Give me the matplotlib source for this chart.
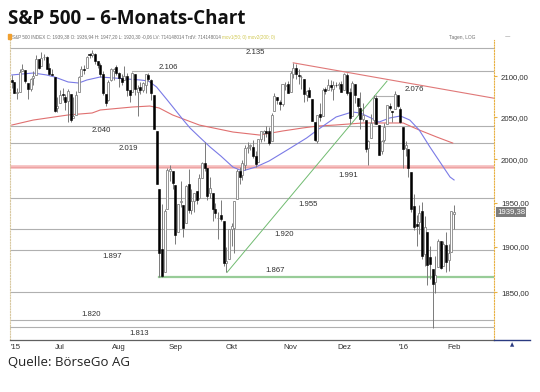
import matplotlib
matplotlib.use("Agg")
import matplotlib.pyplot as plt
import numpy as np
from matplotlib.ticker import NullLocator

# ---------------- data ----------------
month_starts = ["Jul", "Aug", "Sep", "Okt", "Nov", "Dez", "'16", "Feb"]
days_per_month = [18, 22, 21, 21, 22, 20, 22, 19, 1]   # Jun(part) .. Feb(part)

opens = [
 2095.09, 2092.34, 2079.07, 2081.12, 2106.24, 2107.43, 2091.34, 2084.26, 2097.40, 2101.58, 2121.06, 2112.50, 2123.16, 2123.65, 2109.96, 2102.62, 2098.63, 2061.19,
 2067.00, 2078.03, 2073.95, 2069.52, 2077.66, 2049.73, 2052.74, 2080.03, 2099.72, 2109.02, 2110.55, 2126.80, 2126.85, 2127.55, 2118.21, 2114.16, 2102.24, 2078.19, 2070.75, 2094.70, 2106.78, 2111.60,
 2104.49, 2097.68, 2095.27, 2100.75, 2082.61, 2080.98, 2102.66, 2081.10, 2086.19, 2083.15, 2089.70, 2101.99, 2095.69, 2076.61, 2034.08, 1965.15, 1898.08, 1872.75, 1942.77, 1986.06, 1986.73,
 1970.09, 1916.52, 1950.79, 1947.76, 1927.30, 1971.45, 1941.59, 1951.45, 1963.06, 1955.10, 1978.02, 1995.33, 1989.66, 1960.84, 1961.39, 1943.24, 1932.24, 1935.93, 1929.18, 1881.90, 1887.14,
 1919.65, 1921.77, 1954.33, 1986.63, 1982.34, 1994.01, 2013.73, 2015.65, 2015.00, 2003.66, 1996.47, 2024.37, 2031.73, 2033.13, 2033.47, 2021.88, 2058.19, 2075.08, 2068.75, 2066.48, 2088.35, 2090.00,
 2080.76, 2102.63, 2110.60, 2101.68, 2098.60, 2096.56, 2077.19, 2083.41, 2072.29, 2044.64, 2022.08, 2053.67, 2051.99, 2083.70, 2082.82, 2089.41, 2084.42, 2089.30, 2088.82, 2090.95,
 2082.93, 2101.71, 2080.71, 2051.24, 2090.42, 2073.39, 2061.17, 2047.93, 2047.27, 2013.37, 2025.55, 2046.50, 2073.76, 2040.81, 2010.27, 2023.15, 2042.20, 2063.52, 2057.77, 2060.54, 2077.34, 2060.59,
 2038.20, 2013.78, 2011.71, 1985.32, 1945.97, 1926.12, 1927.83, 1940.34, 1891.68, 1916.68, 1888.66, 1876.18, 1861.46, 1877.40, 1906.28, 1878.79, 1902.52, 1885.22, 1894.00,
 1936.94]

highs = [
 2100.99, 2093.01, 2085.62, 2108.50, 2115.02, 2107.43, 2091.34, 2097.40, 2106.79, 2126.65, 2121.64, 2129.87, 2128.03, 2125.10, 2116.04, 2108.92, 2098.63, 2074.28,
 2082.78, 2085.06, 2078.61, 2083.74, 2077.66, 2074.28, 2081.31, 2100.67, 2111.98, 2114.14, 2124.42, 2128.91, 2132.82, 2128.49, 2118.51, 2116.87, 2106.01, 2078.19, 2095.60, 2110.60, 2110.48, 2114.24,
 2105.70, 2102.51, 2112.66, 2103.32, 2082.61, 2105.35, 2102.66, 2089.06, 2092.93, 2092.45, 2102.87, 2103.47, 2096.17, 2076.61, 2034.08, 1965.15, 1948.04, 1943.09, 1989.60, 1993.48, 1986.73,
 1970.09, 1948.91, 1975.01, 1947.76, 1970.42, 1988.63, 1965.29, 1961.05, 1963.06, 1983.19, 1997.26, 2020.86, 1989.66, 1979.64, 1961.39, 1949.52, 1938.88, 1952.89, 1929.18, 1899.48, 1920.53,
 1927.21, 1951.36, 1989.17, 1991.62, 1999.31, 2016.50, 2020.13, 2018.66, 2022.34, 2009.56, 2024.15, 2033.54, 2034.45, 2039.12, 2037.97, 2055.20, 2079.74, 2075.14, 2070.37, 2090.35, 2092.52, 2094.32,
 2106.20, 2116.48, 2114.59, 2108.78, 2101.91, 2096.56, 2083.67, 2086.94, 2072.29, 2044.64, 2053.22, 2066.69, 2085.31, 2086.74, 2097.06, 2095.61, 2094.12, 2093.00, 2093.29, 2093.81,
 2103.37, 2104.27, 2085.00, 2093.84, 2090.42, 2073.85, 2080.33, 2067.65, 2047.27, 2022.92, 2053.87, 2076.72, 2076.37, 2040.81, 2022.90, 2042.74, 2064.73, 2067.36, 2057.77, 2081.56, 2077.34, 2062.54,
 2038.20, 2021.94, 2011.71, 1985.32, 1960.40, 1935.65, 1947.38, 1950.33, 1934.47, 1916.68, 1901.44, 1876.18, 1889.85, 1908.85, 1906.28, 1906.73, 1916.99, 1902.96, 1940.24,
 1947.20]

lows = [
 2085.67, 2079.11, 2072.14, 2081.12, 2106.24, 2091.33, 2072.49, 2082.10, 2088.86, 2101.58, 2109.45, 2112.50, 2119.89, 2108.58, 2101.78, 2101.01, 2056.64, 2056.32,
 2067.00, 2071.02, 2058.40, 2044.02, 2044.66, 2049.73, 2052.74, 2080.03, 2099.72, 2102.49, 2110.55, 2122.01, 2123.66, 2115.40, 2110.00, 2098.63, 2077.09, 2063.52, 2069.09, 2094.08, 2094.97, 2102.07,
 2087.31, 2088.60, 2095.27, 2075.53, 2067.91, 2080.98, 2076.49, 2052.09, 2078.26, 2080.61, 2079.30, 2094.14, 2070.53, 2035.73, 1970.89, 1867.01, 1867.08, 1872.75, 1942.77, 1975.19, 1965.98,
 1903.07, 1916.52, 1944.72, 1911.21, 1927.30, 1937.88, 1937.19, 1939.19, 1948.27, 1954.30, 1977.93, 1986.73, 1953.45, 1955.80, 1929.22, 1932.57, 1908.92, 1928.92, 1879.21, 1871.91, 1887.14,
 1900.70, 1893.70, 1954.33, 1971.99, 1976.44, 1987.53, 2007.61, 2010.55, 2001.78, 1990.73, 1996.47, 2020.46, 2022.31, 2026.61, 2017.22, 2021.88, 2058.19, 2066.53, 2058.84, 2063.11, 2082.63, 2079.34,
 2080.76, 2097.51, 2096.98, 2090.41, 2083.74, 2068.24, 2069.91, 2074.85, 2045.66, 2022.02, 2019.39, 2045.90, 2051.99, 2078.76, 2082.82, 2081.39, 2070.29, 2086.30, 2084.13, 2080.41,
 2082.93, 2077.11, 2042.35, 2051.24, 2066.78, 2052.32, 2036.53, 2045.67, 2008.80, 1993.26, 2025.55, 2042.43, 2041.66, 2005.33, 2005.93, 2020.49, 2042.20, 2058.73, 2044.20, 2060.54, 2061.97, 2043.62,
 1989.68, 2004.17, 1979.05, 1938.83, 1918.46, 1901.10, 1914.35, 1886.41, 1878.93, 1857.83, 1864.60, 1812.29, 1848.98, 1877.40, 1875.97, 1878.79, 1872.70, 1873.65, 1894.00,
 1920.30]

closes = [
 2092.83, 2079.28, 2080.15, 2105.20, 2108.86, 2094.11, 2084.43, 2096.29, 2100.44, 2121.24, 2109.99, 2122.85, 2124.20, 2108.58, 2102.31, 2101.49, 2057.64, 2063.11,
 2077.42, 2076.78, 2068.76, 2081.34, 2046.68, 2051.31, 2076.62, 2099.60, 2108.95, 2107.40, 2124.29, 2126.64, 2128.28, 2119.21, 2114.15, 2102.15, 2079.65, 2067.64, 2093.25, 2108.57, 2108.63, 2103.84,
 2098.04, 2093.32, 2099.84, 2083.56, 2077.57, 2104.18, 2084.07, 2086.05, 2083.39, 2091.54, 2102.44, 2096.92, 2079.61, 2035.73, 1970.89, 1893.21, 1867.61, 1940.51, 1987.66, 1988.87, 1972.18,
 1913.85, 1948.86, 1951.13, 1921.22, 1969.41, 1942.04, 1952.29, 1961.05, 1953.03, 1978.09, 1995.31, 1990.20, 1958.03, 1966.97, 1942.74, 1938.76, 1932.24, 1931.34, 1881.77, 1884.09, 1920.03,
 1923.82, 1951.36, 1987.05, 1979.92, 1995.83, 2013.43, 2014.89, 2017.46, 2003.69, 1994.24, 2023.86, 2033.11, 2033.66, 2030.77, 2018.94, 2052.51, 2075.15, 2071.18, 2065.89, 2090.35, 2089.41, 2079.36,
 2104.05, 2109.79, 2102.31, 2099.93, 2099.20, 2078.58, 2081.72, 2075.00, 2045.97, 2023.04, 2053.19, 2050.44, 2083.58, 2081.24, 2089.17, 2086.59, 2089.14, 2088.87, 2090.11, 2080.41,
 2102.63, 2079.51, 2049.62, 2091.69, 2077.07, 2063.59, 2047.62, 2052.23, 2012.37, 2021.94, 2043.41, 2073.07, 2041.89, 2005.55, 2021.15, 2038.97, 2064.29, 2060.99, 2056.50, 2078.36, 2063.36, 2043.94,
 2012.66, 2016.71, 1990.26, 1943.09, 1922.03, 1923.67, 1938.68, 1890.28, 1921.84, 1880.33, 1881.33, 1859.33, 1868.99, 1906.90, 1877.08, 1903.63, 1882.95, 1893.36, 1940.24,
 1939.38]

# moving averages (bar index, value)
ma50_idx = [0, 8, 13, 16, 21, 25, 28, 33, 38, 43, 48, 51, 54, 58, 61, 64, 66.5, 70, 74, 78, 82.5, 86, 91, 96, 104, 110, 114, 121, 127, 130, 134, 137, 141, 145, 148.5, 152, 156, 160, 163.5, 165]
ma50_val = [2101.5, 2103.9, 2101.5, 2099.0, 2092.9, 2091.6, 2095.3, 2099.0, 2097.8, 2096.5, 2095.3, 2094.1, 2086.8, 2070.9, 2058.8, 2046.7, 2037.2, 2026.5, 2014.6, 2004.0, 1991.1, 1986.5, 1991.1, 1998.2, 2013.5, 2025.3, 2034.8, 2050.4, 2056.4, 2055.2, 2049.2, 2044.3, 2049.2, 2051.6, 2046.7, 2034.8, 2014.6, 1995.8, 1979.5, 1976.1]
ma200_idx = [0, 8, 21, 30, 33, 45, 51.5, 55, 60, 70, 82.5, 92.5, 101, 108.5, 114, 120.5, 131, 146, 152, 158.5, 164.5]
ma200_val = [2040.7, 2046.7, 2052.8, 2055.2, 2058.8, 2062.4, 2063.6, 2061.2, 2052.8, 2040.7, 2032.4, 2028.8, 2033.6, 2037.2, 2039.5, 2040.7, 2043.2, 2043.2, 2034.8, 2026.5, 2019.3]

# horizontal levels
levels = [2135, 2106, 2076, 2040, 2019, 1955, 1920, 1897, 1850, 1820, 1813]
level_labels = ["2.135", "2.106", "2.076", "2.040", "2.019", "1.955", "1.920", "1.897", None, "1.820", "1.813"]
level_start = [None, 45, 135, None, None, None, None, None, None, None, None]
level_end = [None, None, 143, None, None, None, None, None, None, None, None]
red_level = 1991
green_level = 1867
green_level_start = 55

# trend lines (bar index, value)
res_idx = [105, 180]
res_val = [2116.5, 2073.0]
sup_idx = [80.3, 140.0]
sup_val = [1871.9, 2094.0]

yticks = [1850, 1900, 1950, 2000, 2050, 2100]
last_price = 1939.38

# ---------------- figure ----------------
W, H = 540, 392
fig = plt.figure(figsize=(W / 100, H / 100), dpi=100)
fig.patch.set_facecolor("white")

L, R, T, B = 10, 494, 40, 340
ax = fig.add_axes([L / W, 1 - B / H, (R - L) / W, (B - T) / H])
ax.set_facecolor("white")
ax.set_yscale("log")
ax.set_ylim(1799.2, 2145.0)
ax.set_xlim(-0.66, 179.9)

n = len(closes)
x = np.arange(n)
o = np.array(opens); h = np.array(highs); l = np.array(lows); c = np.array(closes)

grid_c = "#b0b0b0"
for v, s, e in zip(levels, level_start, level_end):
    xs = s if s is not None else -0.66
    xe = e if e is not None else 179.9
    ax.plot([xs, xe], [v, v], color=grid_c, lw=0.8, zorder=1)
ax.axhline(red_level, color="#f5bcbc", lw=2.6, zorder=1)
ax.axhline(red_level, color="#eca0a0", lw=0.6, zorder=1)
ax.plot([green_level_start, 179.9], [green_level, green_level], color="#98cc98", lw=1.6, zorder=1)

ax.plot(ma200_idx, ma200_val, color="#e07070", lw=0.8, zorder=2)
ax.plot(ma50_idx, ma50_val, color="#7a7ae6", lw=0.8, zorder=2)
ax.plot(res_idx, res_val, color="#e07878", lw=0.8, zorder=2)
ax.plot(sup_idx, sup_val, color="#70bb70", lw=0.7, zorder=2)

up = c >= o
ax.vlines(x, l, h, color="#7a7a7a", lw=0.7, zorder=3)
bw = 0.75
body_lo = np.minimum(o, c)
body_hi = np.maximum(o, c)
body_h = np.maximum(body_hi - body_lo, 0.6)
ax.bar(x[up], body_h[up], bottom=body_lo[up], width=bw, color="white",
       edgecolor="#858585", lw=0.6, zorder=4)
ax.bar(x[~up], body_h[~up], bottom=body_lo[~up], width=bw, color="black",
       edgecolor="black", lw=0.4, zorder=4)

txt_kw = dict(fontsize=5.6, color="#303030", family="Liberation Sans", ha="center", va="center")
label_pos = {"2.135": (90.8, -5), "2.106": (58.3, 4), "2.076": (150.1, 6), "2.040": (33.3, -5),
             "2.019": (43.4, -5), "1.955": (110.5, -6), "1.920": (101.6, -5), "1.897": (37.4, -7),
             "1.820": (29.6, 6), "1.813": (47.5, -7)}
for v, lab in zip(levels, level_labels):
    if lab is None:
        continue
    xi, dy = label_pos[lab]
    ax.annotate(lab, (xi, v), xytext=(0, dy), textcoords="offset pixels", **txt_kw)
ax.annotate("1.991", (125.5, red_level), xytext=(0, -8), textcoords="offset pixels", **txt_kw)
ax.annotate("1.867", (98.2, green_level), xytext=(0, 6), textcoords="offset pixels", **txt_kw)

ax.yaxis.set_minor_locator(NullLocator())
ax.yaxis.tick_right()
ax.set_yticks(yticks)
ax.set_yticklabels([f"{t},00" for t in yticks])
ax.tick_params(axis="y", length=2, color="#e8b040", pad=3, labelsize=5.6, labelcolor="#303030")
for lab in ax.get_yticklabels():
    lab.set_family("Liberation Sans")

pos = []
acc = 0
for d in days_per_month[:-1]:
    acc += d
    pos.append(acc)
ax.set_xticks([1.4] + pos)
ax.set_xticklabels(["'15"] + month_starts)
ax.tick_params(axis="x", length=0, pad=3, labelsize=5.6, labelcolor="#303030")
for lab in ax.get_xticklabels():
    lab.set_family("Liberation Sans")

ax.spines["top"].set_visible(False)
ax.spines["right"].set_color("#e8b040")
ax.spines["right"].set_linestyle((0, (1, 1.5)))
ax.spines["right"].set_linewidth(0.8)
ax.spines["left"].set_color("#d8c8a0")
ax.spines["left"].set_linestyle((0, (1, 1.5)))
ax.spines["left"].set_linewidth(0.8)
ax.spines["bottom"].set_color("#606060")
ax.spines["bottom"].set_linewidth(0.9)

ax.annotate(f"{last_price:.2f}".replace(".", ","), (1, last_price), xycoords=("axes fraction", "data"),
            xytext=(3, 0), textcoords="offset pixels", ha="left", va="center",
            fontsize=5.6, color="white", family="Liberation Sans",
            bbox=dict(boxstyle="square,pad=0.15", fc="#7c7c7c", ec="none"))

def ftext(px, py, s, **kw):
    fig.text(px / W, 1 - py / H, s, **kw)

ftext(8, 19, "S&P 500 – 6-Monats-Chart", fontsize=13.5, fontweight="bold",
      family="Open Sans", color="#111111", va="center", ha="left")
ftext(12, 37, "S&P 500 INDEX C: 1939,38 O: 1936,94 H: 1947,20 L: 1920,30 -0,06 LV: 714148014 TrdV: 714148014",
      fontsize=3.3, color="#707070", family="Liberation Sans", va="center", ha="left")
ftext(222, 37, "mov1(50; 0) mov2(200; 0)", fontsize=3.3, color="#d0c850",
      family="Liberation Sans", va="center", ha="left")
ftext(449, 37, "Tagen, LOG", fontsize=3.5, color="#707070", family="Liberation Sans",
      va="center", ha="left")
ftext(505, 37, "—", fontsize=4, color="#707070", family="DejaVu Sans", va="center", ha="left")
fig.patches.append(plt.Rectangle((8 / W, 1 - 39 / H), 3 / W, 5 / H, transform=fig.transFigure,
                                 color="#f0a030", zorder=5))
ftext(8, 363, "Quelle: BörseGo AG", fontsize=9.5, family="Open Sans", color="#222222",
      va="center", ha="left")

fig.add_artist(plt.Line2D([494 / W, 530 / W], [1 - 340 / H, 1 - 340 / H], transform=fig.transFigure,
                          color="#2a3a80", lw=1.0))
ftext(512, 345, "▲", fontsize=4, color="#2a3a80", family="DejaVu Sans", va="center", ha="center")

fig.savefig("out.png", dpi=100, facecolor="white")
